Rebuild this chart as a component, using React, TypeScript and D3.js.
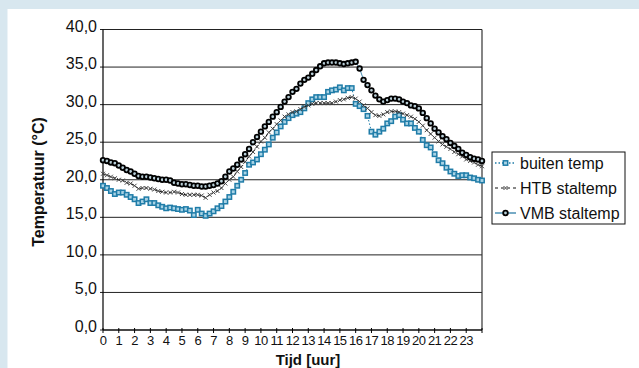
import React from 'react';
import * as d3 from 'd3';

// quarter-hour readings, 0:00 .. 24:00
const hours = d3.range(0, 97).map(i => i / 4);
const hourTicks = d3.range(0, 24);
const yTicks = [0, 5, 10, 15, 20, 25, 30, 35, 40];

const buitenTemp = [
  19.2, 18.9, 18.5, 18.1, 18.3, 18.3, 18.0, 17.7, 17.4, 16.9, 17.1, 17.4,
  16.9, 16.9, 16.6, 16.4, 16.2, 16.3, 16.2, 16.1, 16.0, 16.1, 15.9, 15.3,
  16.0, 15.5, 15.2, 15.5, 15.8, 16.2, 16.5, 17.1, 17.7, 18.4, 19.2, 20.0,
  20.9, 22.0, 22.3, 22.7, 23.4, 24.0, 24.7, 25.6, 26.3, 27.1, 27.7, 28.2,
  28.6, 28.8, 29.0, 29.5, 30.2, 30.7, 31.0, 31.0, 31.0, 31.7, 31.9, 32.0,
  32.3, 31.9, 32.2, 32.2, 30.1, 29.8, 29.4, 28.5, 26.4, 26.0, 26.4, 26.8,
  27.5, 27.8, 28.4, 28.6, 28.0, 27.5, 27.5, 26.9, 26.4, 25.3, 24.6, 24.3,
  23.4, 22.6, 22.2, 21.6, 21.1, 20.8, 20.5, 20.6, 20.6, 20.3, 20.2, 20.0,
  19.9
];

const htbStaltemp = [
  20.8, 20.6, 20.4, 20.2, 20.0, 19.9, 19.6, 19.5, 19.2, 18.8, 18.9, 18.9,
  18.8, 18.7, 18.5, 18.4, 18.3, 18.3, 18.4, 18.3, 18.1, 18.0, 18.0, 18.0,
  18.0, 17.9, 17.6, 18.0, 18.3, 18.5, 18.9, 19.5, 20.0, 20.4, 21.1, 21.7,
  22.4, 23.1, 23.7, 24.4, 25.1, 25.6, 26.3, 26.8, 27.4, 27.9, 28.4, 28.7,
  29.0, 29.1, 29.4, 29.7, 29.9, 30.1, 30.2, 30.2, 30.2, 30.2, 30.2, 30.4,
  30.6, 30.7, 30.9, 31.0, 30.8, 30.4, 29.9, 29.5, 29.0, 28.6, 28.5, 28.7,
  29.0, 29.1, 29.1, 29.0, 28.8, 28.6, 28.4, 28.1, 27.7, 27.2, 26.6, 26.1,
  25.6, 25.1, 24.7, 24.4, 24.1, 23.7, 23.4, 23.1, 22.7, 22.5, 22.3, 22.0,
  21.8
];

const vmbStaltemp = [
  22.6, 22.5, 22.3, 22.2, 21.9, 21.6, 21.3, 21.1, 20.8, 20.5, 20.4, 20.4,
  20.3, 20.2, 20.1, 20.0, 20.0, 19.9, 19.6, 19.5, 19.4, 19.4, 19.3, 19.2,
  19.2, 19.1, 19.1, 19.2, 19.3, 19.5, 19.8, 20.4, 21.1, 21.5, 22.0, 22.7,
  23.4, 24.1, 25.0, 25.7, 26.4, 27.1, 27.7, 28.4, 29.0, 29.7, 30.4, 31.0,
  31.7, 32.1, 32.8, 33.3, 33.6, 34.1, 34.6, 35.1, 35.5, 35.6, 35.6, 35.6,
  35.5, 35.4, 35.5, 35.6, 35.7, 34.8, 33.3, 32.6, 31.9, 31.2, 30.7, 30.4,
  30.6, 30.8, 30.8, 30.7, 30.4, 30.2, 29.9, 29.8, 29.5, 28.9, 28.2, 27.5,
  26.8, 26.3, 25.8, 25.4, 24.9, 24.5, 24.1, 23.6, 23.3, 23.0, 22.8, 22.7,
  22.5
];

const legendLabels = ['buiten temp', 'HTB staltemp', 'VMB staltemp'];

const W = 639;
const H = 368;
const plot = { left: 103, right: 482, top: 29.5, bottom: 330 };
const BLUE = '#1f7ca8';
const FONT = '"Liberation Sans", Arial, sans-serif';

const x = d3.scaleLinear().domain([0, 24]).range([plot.left, plot.right]);
const y = d3.scaleLinear().domain([0, 40]).range([plot.bottom, plot.top]);

const lineOf = (vals: number[]) =>
  d3.line<number>().x((_, i) => x(hours[i])).y(d => y(d))(vals) || '';

const Square = ({ cx, cy }: { cx: number; cy: number }) => (
  <rect x={cx - 2.2} y={cy - 2.2} width={4.4} height={4.4} fill="#a9d3e5" stroke={BLUE} strokeWidth={1.5} />
);

const Cross = ({ cx, cy }: { cx: number; cy: number }) => (
  <path d={`M${cx - 2},${cy - 2}L${cx + 2},${cy + 2}M${cx - 2},${cy + 2}L${cx + 2},${cy - 2}`} stroke="#444" strokeWidth={1} />
);

const Circle = ({ cx, cy }: { cx: number; cy: number }) => (
  <circle cx={cx} cy={cy} r={2.3} fill="#b9cfd8" stroke="#000" strokeWidth={1.8} />
);

export default function App() {
  const legendX = 492;
  const legendY = 152;
  const rowH = 25;

  return (
    <svg width={W} height={H} style={{ position: 'absolute', left: 0, top: 0, display: 'block' }}>
      <rect x={0} y={0} width={W} height={H} fill="#d8e7ef" />
      <rect x={7.5} y={9} width={W - 7.5} height={H - 9} fill="#fff" />

      {/* grid lines */}
      {yTicks.map(t => (
        <line key={t} x1={plot.left - 3} x2={plot.right} y1={y(t)} y2={y(t)} stroke="#222" strokeWidth={1} />
      ))}
      <line x1={plot.left} x2={plot.left} y1={plot.top} y2={plot.bottom} stroke="#000" strokeWidth={1.2} />
      <line x1={plot.right} x2={plot.right} y1={plot.top} y2={plot.bottom} stroke="#333" strokeWidth={1.2} />
      <line x1={plot.left} x2={plot.right} y1={plot.bottom} y2={plot.bottom} stroke="#000" strokeWidth={1.2} />

      {/* y tick labels */}
      {yTicks.map(t => (
        <text key={t} x={97} y={y(t) + 2} textAnchor="end" fontFamily={FONT} fontSize={16} fill="#111">
          {d3.format('.1f')(t).replace('.', ',')}
        </text>
      ))}

      {/* x ticks */}
      {hourTicks.map(h => (
        <g key={h}>
          <line x1={x(h)} x2={x(h)} y1={plot.bottom - 2} y2={plot.bottom + 3} stroke="#000" />
          <text x={x(h)} y={345} textAnchor="middle" fontFamily={FONT} fontSize={13} fill="#111" letterSpacing={-0.5}>
            {h}
          </text>
        </g>
      ))}
      <line x1={plot.right} x2={plot.right} y1={plot.bottom - 2} y2={plot.bottom + 3} stroke="#000" />

      {/* axis titles */}
      <text x={308} y={365} textAnchor="middle" fontFamily={FONT} fontSize={15} fontWeight="bold" fill="#111">
        Tijd [uur]
      </text>
      <text transform={`translate(44, 182) rotate(-90)`} textAnchor="middle" fontFamily={FONT} fontSize={16} fontWeight="bold" fill="#111">
        Temperatuur (°C)
      </text>

      {/* series */}
      <path d={lineOf(buitenTemp)} fill="none" stroke={BLUE} strokeWidth={1} strokeDasharray="1.5,2" />
      {buitenTemp.map((v, i) => <Square key={i} cx={x(hours[i])} cy={y(v)} />)}

      <path d={lineOf(htbStaltemp)} fill="none" stroke="#111" strokeWidth={1} strokeDasharray="3,2" />
      {htbStaltemp.map((v, i) => <Cross key={i} cx={x(hours[i])} cy={y(v)} />)}

      <path d={lineOf(vmbStaltemp)} fill="none" stroke="#4a8fb3" strokeWidth={1} />
      {vmbStaltemp.map((v, i) => <Circle key={i} cx={x(hours[i])} cy={y(v)} />)}

      {/* legend */}
      <rect x={legendX} y={legendY} width={133} height={72} fill="#fff" stroke="#111" strokeWidth={1} />
      {legendLabels.map((lab, i) => {
        const cy = legendY + 11 + i * rowH;
        const x1 = legendX + 3;
        const x2 = legendX + 24;
        const mx = (x1 + x2) / 2;
        return (
          <g key={lab}>
            {i === 0 && (
              <>
                <line x1={x1} x2={x2} y1={cy} y2={cy} stroke={BLUE} strokeWidth={1.5} strokeDasharray="1.5,2" />
                <Square cx={mx} cy={cy} />
              </>
            )}
            {i === 1 && (
              <>
                <line x1={x1} x2={x2} y1={cy} y2={cy} stroke="#111" strokeWidth={1} strokeDasharray="3,3" />
                <Cross cx={mx} cy={cy} />
              </>
            )}
            {i === 2 && (
              <>
                <line x1={x1} x2={x2} y1={cy} y2={cy} stroke="#4a8fb3" strokeWidth={1.5} />
                <Circle cx={mx} cy={cy} />
              </>
            )}
            <text x={legendX + 28} y={cy + 5.5} fontFamily={FONT} fontSize={16} fill="#111">
              {lab}
            </text>
          </g>
        );
      })}
    </svg>
  );
}
